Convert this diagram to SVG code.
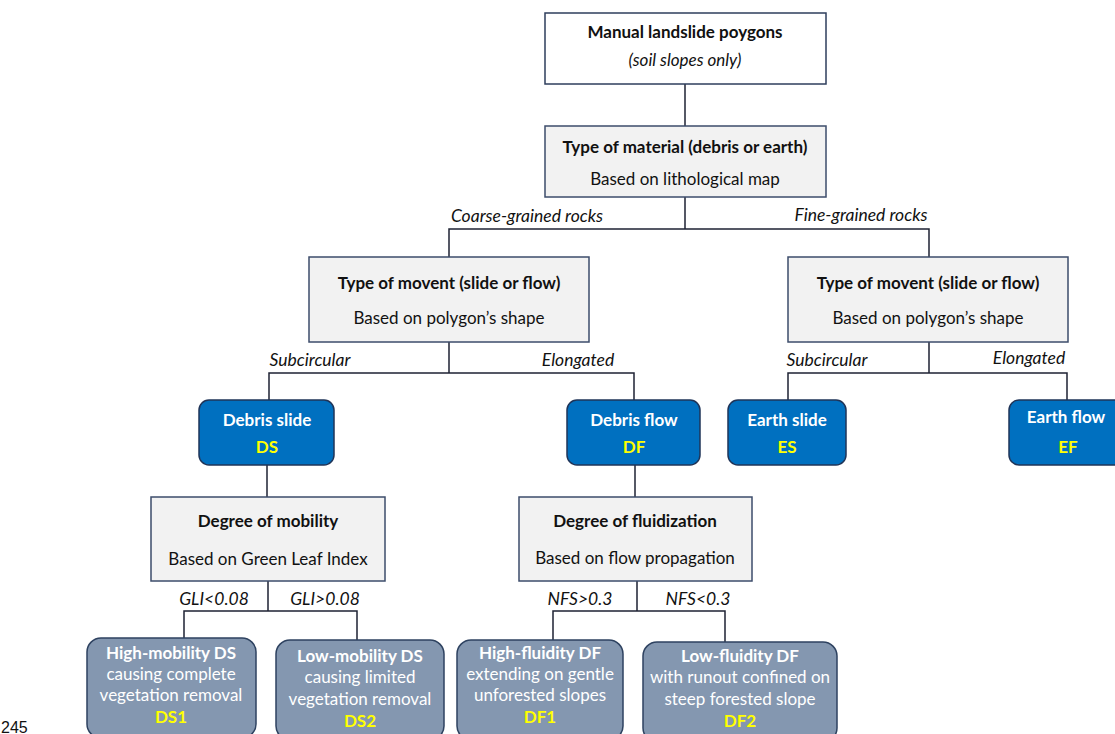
<svg xmlns="http://www.w3.org/2000/svg" width="1115" height="734" viewBox="0 0 1115 734">
<style>
text{font-family:Lato,"Open Sans","Liberation Sans",sans-serif;text-anchor:middle;font-size:17px}
.b{font-weight:bold}
.i{font-style:italic}
.dk{fill:#111}
.wh{fill:#fff}
.yl{fill:#ffff00;font-weight:bold}
.plain{fill:#fff;stroke:#2e3e5c;stroke-width:1.5}
.grey{fill:#f2f2f2;stroke:#3d4c6b;stroke-width:1.5}
.blue{fill:#0070c0;stroke:#1f3458;stroke-width:1.5}
.slate{fill:#8497b0;stroke:#2e4260;stroke-width:1.5}
.lbl{fill:#111;font-style:italic;font-size:17.5px}
.c{fill:none;stroke:#1e2233;stroke-width:1.5}
</style>
<rect width="1115" height="734" fill="#fff"/>
<g id="connectors">
<path class="c" d="M685 84V126"/>
<path class="c" d="M685 197V229M449 257V229H929V257"/>
<path class="c" d="M449 342V373M269 400V373H634V400"/>
<path class="c" d="M929 342V373M788 400V373H1067V400"/>
<path class="c" d="M267 465V497"/>
<path class="c" d="M635 465V497"/>
<path class="c" d="M268 581V611M184 638V611H357V640"/>
<path class="c" d="M637 581V611M553 640V611H725V642"/>
</g>
<g id="labels">
<text class="lbl" x="527" y="222">Coarse-grained rocks</text>
<text class="lbl" x="861" y="221">Fine-grained rocks</text>
<text class="lbl" x="310" y="366">Subcircular</text>
<text class="lbl" x="578" y="366">Elongated</text>
<text class="lbl" x="827" y="366">Subcircular</text>
<text class="lbl" x="1029" y="364">Elongated</text>
<text class="lbl" x="214" y="605">GLI&lt;0.08</text>
<text class="lbl" x="325" y="605">GLI&gt;0.08</text>
<text class="lbl" x="580" y="605">NFS&gt;0.3</text>
<text class="lbl" x="698" y="605">NFS&lt;0.3</text>
</g>
<g id="n-start">
<rect class="plain" x="545" y="13" width="281" height="71"/>
<text class="dk b" x="685" y="38">Manual landslide poygons</text>
<text class="dk i" x="685" y="66">(soil slopes only)</text>
</g>
<g id="n-material">
<rect class="grey" x="545" y="126" width="281" height="71"/>
<text class="dk b" x="685" y="153">Type of material (debris or earth)</text>
<text class="dk" x="685" y="185">Based on lithological map</text>
</g>
<g id="n-move-coarse">
<rect class="grey" x="309" y="257" width="280" height="85"/>
<text class="dk b" x="449" y="289">Type of movent (slide or flow)</text>
<text class="dk" x="449" y="324">Based on polygon’s shape</text>
</g>
<g id="n-move-fine">
<rect class="grey" x="788" y="257" width="280" height="85"/>
<text class="dk b" x="928" y="289">Type of movent (slide or flow)</text>
<text class="dk" x="928" y="324">Based on polygon’s shape</text>
</g>
<g id="n-ds">
<rect class="blue" x="199" y="400" width="135" height="65" rx="10"/>
<text class="wh b" x="267" y="426">Debris slide</text>
<text class="yl" x="267" y="453">DS</text>
</g>
<g id="n-df">
<rect class="blue" x="567" y="400" width="133" height="65" rx="10"/>
<text class="wh b" x="634" y="426">Debris flow</text>
<text class="yl" x="634" y="453">DF</text>
</g>
<g id="n-es">
<rect class="blue" x="728" y="400" width="118" height="65" rx="10"/>
<text class="wh b" x="787" y="426">Earth slide</text>
<text class="yl" x="787" y="453">ES</text>
</g>
<g id="n-ef">
<rect class="blue" x="1009" y="400" width="120" height="65" rx="10"/>
<text class="wh b" x="1066" y="423">Earth flow</text>
<text class="yl" x="1068" y="453">EF</text>
</g>
<g id="n-mobility">
<rect class="grey" x="151" y="497" width="234" height="84"/>
<text class="dk b" x="268" y="527">Degree of mobility</text>
<text class="dk" x="268" y="565">Based on Green Leaf Index</text>
</g>
<g id="n-fluid">
<rect class="grey" x="519" y="497" width="233" height="84"/>
<text class="dk b" x="635" y="527">Degree of fluidization</text>
<text class="dk" x="635" y="564">Based on flow propagation</text>
</g>
<g id="n-ds1">
<rect class="slate" x="87" y="638" width="169" height="100" rx="14"/>
<text class="wh b" x="171" y="659">High-mobility DS</text>
<text class="wh" x="171" y="680">causing complete</text>
<text class="wh" x="171" y="701">vegetation removal</text>
<text class="yl" x="171" y="723">DS1</text>
</g>
<g id="n-ds2">
<rect class="slate" x="276" y="640" width="168" height="100" rx="14"/>
<text class="wh b" x="360" y="662">Low-mobility DS</text>
<text class="wh" x="360" y="683">causing limited</text>
<text class="wh" x="360" y="705">vegetation removal</text>
<text class="yl" x="360" y="727">DS2</text>
</g>
<g id="n-df1">
<rect class="slate" x="457" y="640" width="166" height="100" rx="14"/>
<text class="wh b" x="540" y="659">High-fluidity DF</text>
<text class="wh" x="540" y="680">extending on gentle</text>
<text class="wh" x="540" y="701">unforested slopes</text>
<text class="yl" x="540" y="723">DF1</text>
</g>
<g id="n-df2">
<rect class="slate" x="643" y="642" width="194" height="100" rx="14"/>
<text class="wh b" x="740" y="662">Low-fluidity DF</text>
<text class="wh" x="740" y="683">with runout confined on</text>
<text class="wh" x="740" y="705">steep forested slope</text>
<text class="yl" x="740" y="727">DF2</text>
</g>
<text x="1" y="733" style="text-anchor:start;font-family:'Liberation Sans',sans-serif;font-size:16px" fill="#111">245</text>
</svg>
